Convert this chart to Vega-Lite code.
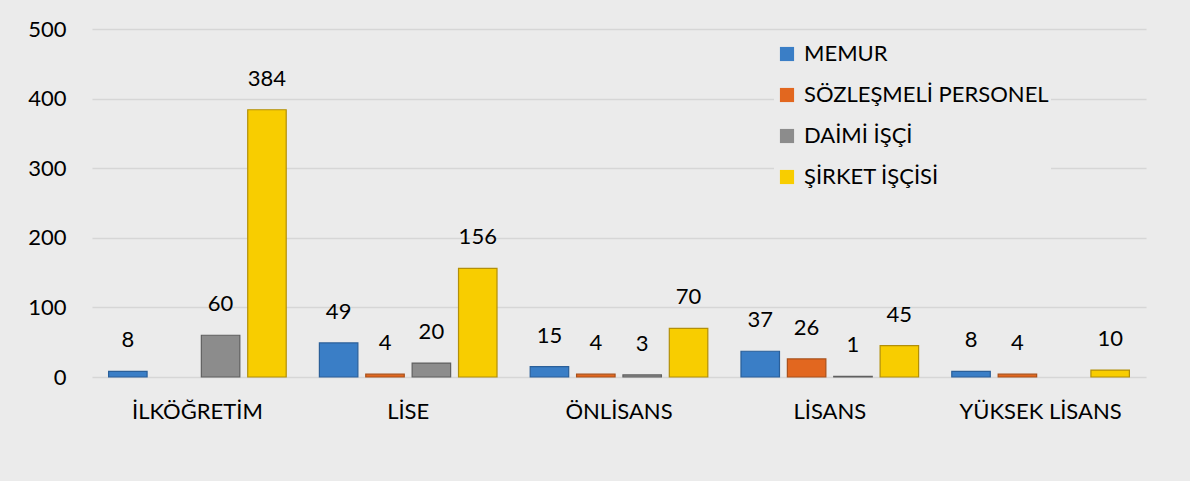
{
  "$schema": "https://vega.github.io/schema/vega-lite/v6.json",
  "autosize": {"type": "none"},
  "width": 1054,
  "height": 348,
  "padding": {"left": 92, "top": 29, "right": 44, "bottom": 104},
  "background": "#ebebeb",
  "config": {
    "view": {"stroke": null},
    "font": "Lato",
    "axis": {"labelFont": "Lato", "labelColor": "#000000", "labelFontSize": 22, "titleFontSize": 0},
    "legend": {"labelFont": "Lato"}
  },
  "data": {
    "values": [
      {"kademe": "İLKÖĞRETİM", "grup": "MEMUR", "sayi": 8},
      {"kademe": "İLKÖĞRETİM", "grup": "DAİMİ İŞÇİ", "sayi": 60},
      {"kademe": "İLKÖĞRETİM", "grup": "ŞİRKET İŞÇİSİ", "sayi": 384},
      {"kademe": "LİSE", "grup": "MEMUR", "sayi": 49},
      {"kademe": "LİSE", "grup": "SÖZLEŞMELİ PERSONEL", "sayi": 4},
      {"kademe": "LİSE", "grup": "DAİMİ İŞÇİ", "sayi": 20},
      {"kademe": "LİSE", "grup": "ŞİRKET İŞÇİSİ", "sayi": 156},
      {"kademe": "ÖNLİSANS", "grup": "MEMUR", "sayi": 15},
      {"kademe": "ÖNLİSANS", "grup": "SÖZLEŞMELİ PERSONEL", "sayi": 4},
      {"kademe": "ÖNLİSANS", "grup": "DAİMİ İŞÇİ", "sayi": 3},
      {"kademe": "ÖNLİSANS", "grup": "ŞİRKET İŞÇİSİ", "sayi": 70},
      {"kademe": "LİSANS", "grup": "MEMUR", "sayi": 37},
      {"kademe": "LİSANS", "grup": "SÖZLEŞMELİ PERSONEL", "sayi": 26},
      {"kademe": "LİSANS", "grup": "DAİMİ İŞÇİ", "sayi": 1},
      {"kademe": "LİSANS", "grup": "ŞİRKET İŞÇİSİ", "sayi": 45},
      {"kademe": "YÜKSEK LİSANS", "grup": "MEMUR", "sayi": 8},
      {"kademe": "YÜKSEK LİSANS", "grup": "SÖZLEŞMELİ PERSONEL", "sayi": 4},
      {"kademe": "YÜKSEK LİSANS", "grup": "ŞİRKET İŞÇİSİ", "sayi": 10}
    ]
  },
  "encoding": {
    "x": {
      "field": "kademe", "type": "nominal", "sort": null,
      "scale": {"paddingInner": 0.12, "paddingOuter": 0.06},
      "axis": {"title": null, "labelAngle": 0, "domain": false, "ticks": false, "labelPadding": 24}
    },
    "xOffset": {
      "field": "grup", "type": "nominal",
      "scale": {"domain": ["MEMUR", "SÖZLEŞMELİ PERSONEL", "DAİMİ İŞÇİ", "ŞİRKET İŞÇİSİ"], "paddingInner": 0.17, "paddingOuter": 0.085}
    },
    "y": {
      "field": "sayi", "type": "quantitative",
      "scale": {"domain": [0, 500], "nice": false},
      "axis": {"title": null, "values": [0, 100, 200, 300, 400, 500], "domain": false, "ticks": false, "labelPadding": 26, "gridColor": "#d6d6d6", "gridWidth": 1.5}
    }
  },
  "layer": [
    {
      "mark": {"type": "bar", "strokeWidth": 1.2},
      "encoding": {
        "color": {
          "field": "grup", "type": "nominal",
          "scale": {"domain": ["MEMUR", "SÖZLEŞMELİ PERSONEL", "DAİMİ İŞÇİ", "ŞİRKET İŞÇİSİ"], "range": ["#3a7ec6", "#e2671f", "#8c8c8c", "#f8cd00"]},
          "legend": {
            "title": null, "orient": "none", "legendX": 682, "legendY": 12,
            "symbolType": "square", "symbolSize": 200, "symbolOpacity": 1, "symbolStrokeWidth": 0,
            "labelFontSize": 22, "labelColor": "#000000", "labelLimit": 400, "labelOffset": 6,
            "rowPadding": 19, "fillColor": "#ebebeb", "padding": 2
          }
        },
        "stroke": {
          "field": "grup", "type": "nominal",
          "scale": {"domain": ["MEMUR", "SÖZLEŞMELİ PERSONEL", "DAİMİ İŞÇİ", "ŞİRKET İŞÇİSİ"], "range": ["#2a5f99", "#a9501a", "#5f5f5f", "#b28f08"]},
          "legend": null
        }
      }
    },
    {
      "mark": {"type": "text", "dy": -31, "fontSize": 22, "color": "#000000", "baseline": "middle"},
      "encoding": {"text": {"field": "sayi", "type": "quantitative"}}
    }
  ]
}
